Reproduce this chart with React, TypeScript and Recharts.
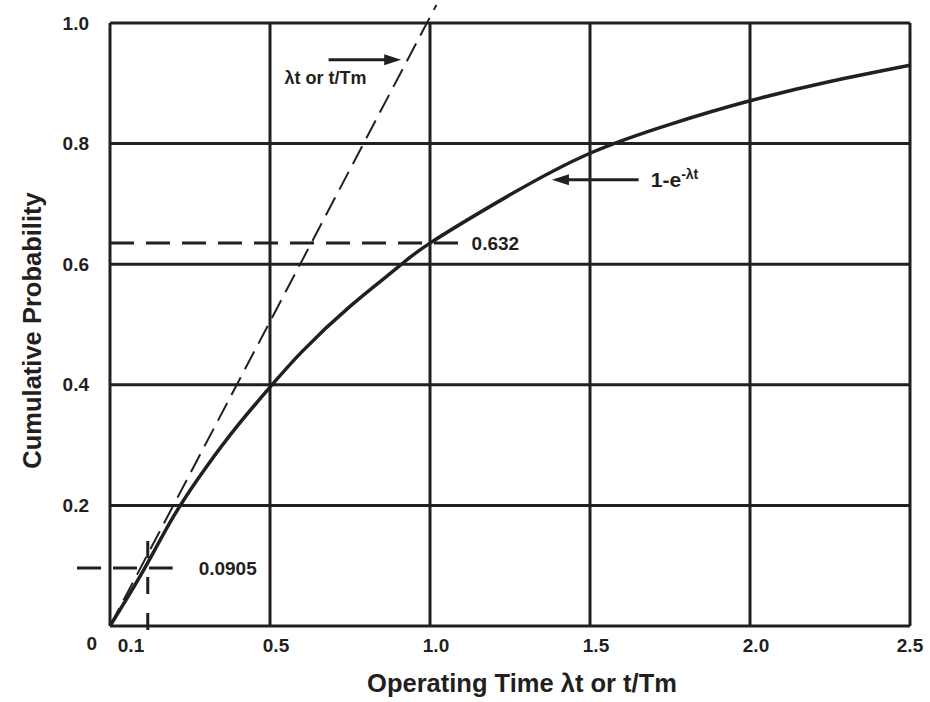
import React from 'react'
import { ComposedChart, Line, XAxis, YAxis, ReferenceLine, ReferenceDot } from 'recharts'

// cumulative probability curve 1 - e^-λt
const timeValues = [0, 0.1, 0.2, 0.3, 0.4, 0.5, 0.6, 0.75, 0.9, 1.0, 1.25, 1.5, 1.75, 2.0, 2.25, 2.5]
const cumulativeProb = [0, 0.088, 0.183, 0.263, 0.333, 0.396, 0.455, 0.53, 0.595, 0.635, 0.715, 0.784, 0.832, 0.871, 0.903, 0.93]

const xTicks = [0.1, 0.5, 1.0, 1.5, 2.0, 2.5]
const yTicks = [0, 0.2, 0.4, 0.6, 0.8, 1.0]
const gridX = [0.5, 1.0, 1.5, 2.0, 2.5]
const gridY = [0.2, 0.4, 0.6, 0.8, 1.0]

// straight line λt (or t/Tm), runs a little past the top frame
const tangentLine = [{ x: 0, y: 0 }, { x: 1.02, y: 1.03 }]
// read-off lines
const readoff632 = [{ x: 0, y: 0.635 }, { x: 1.1, y: 0.635 }]
const readoff0905H = [{ x: -0.103, y: 0.096 }, { x: 0.196, y: 0.096 }]
const readoff0905V = [{ x: 0.118, y: 0.141 }, { x: 0.118, y: -0.018 }]
// annotation arrows
const arrowTangent = [{ x: 0.683, y: 0.939 }, { x: 0.91, y: 0.939 }]
const arrowCurve = [{ x: 1.652, y: 0.74 }, { x: 1.381, y: 0.74 }]

const FONT = '"Liberation Sans", Arial, Helvetica, sans-serif'
const INK = '#231f20'

const data = timeValues.map((t, i) => ({ t, p: cumulativeProb[i] }))

function ArrowShape(props: any) {
  const { x1, y1, x2, y2 } = props
  const ang = Math.atan2(y2 - y1, x2 - x1)
  const len = 17
  const half = 5.5
  const bx = x2 - len * Math.cos(ang)
  const by = y2 - len * Math.sin(ang)
  const pts = [
    `${x2},${y2}`,
    `${bx - half * Math.sin(ang)},${by + half * Math.cos(ang)}`,
    `${bx + half * Math.sin(ang)},${by - half * Math.cos(ang)}`,
  ].join(' ')
  return (
    <g>
      <line x1={x1} y1={y1} x2={bx + 2 * Math.cos(ang)} y2={by + 2 * Math.sin(ang)} stroke={INK} strokeWidth={3} />
      <polygon points={pts} fill={INK} />
    </g>
  )
}

function XTick(props: any) {
  const { x, y, payload } = props
  const v = payload.value
  const dx = v === 0.1 ? -11 : v === 2.5 ? 0 : 6
  return (
    <text x={x + dx} y={y} dy={18} textAnchor="middle" fontFamily={FONT} fontWeight="bold" fontSize={19} fill={INK}>
      {v.toFixed(1)}
    </text>
  )
}

function YTick(props: any) {
  const { x, y, payload } = props
  const v = payload.value
  if (v === 0) {
    return (
      <text x={x - 5} y={y + 17} dy="0.35em" textAnchor="end" fontFamily={FONT} fontWeight="bold" fontSize={19} fill={INK}>
        0
      </text>
    )
  }
  return (
    <text x={x - 13} y={y} dy="0.35em" textAnchor="end" fontFamily={FONT} fontWeight="bold" fontSize={19} fill={INK}>
      {v.toFixed(1)}
    </text>
  )
}

const textDot = (render: (cx: number, cy: number) => React.ReactElement) => (p: any) => render(p.cx, p.cy)

export default function App() {
  return (
    <div style={{ position: 'absolute', left: 0, top: 0, width: 930, height: 702, background: '#fff' }}>
      <ComposedChart width={930} height={702} data={data} margin={{ top: 23, right: 20, bottom: 0, left: 0 }}>
        <XAxis
          dataKey="t"
          type="number"
          domain={[0, 2.5]}
          ticks={xTicks}
          tick={<XTick />}
          tickLine={false}
          axisLine={{ stroke: INK, strokeWidth: 3 }}
          height={76}
          interval={0}
          label={{
            content: (p: any) => {
              const vb = p.viewBox
              return (
                <text x={vb.x + vb.width / 2 + 12} y={vb.y + 66} textAnchor="middle" fontFamily={FONT} fontWeight="bold" fontSize={25.5} fill={INK}>
                  Operating Time λt or t/Tm
                </text>
              )
            },
          }}
        />
        <YAxis
          type="number"
          domain={[0, 1]}
          ticks={yTicks}
          tick={<YTick />}
          tickLine={false}
          axisLine={{ stroke: INK, strokeWidth: 3 }}
          width={110}
          interval={0}
          label={{
            content: (p: any) => {
              const vb = p.viewBox
              const cx = vb.x + 32
              const cy = vb.y + vb.height / 2 + 6
              return (
                <text x={cx} y={cy} dy="0.35em" transform={`rotate(-90, ${cx}, ${cy})`} textAnchor="middle" fontFamily={FONT} fontWeight="bold" fontSize={25.5} fill={INK}>
                  Cumulative Probability
                </text>
              )
            },
          }}
        />

        {gridX.map((v) => (
          <ReferenceLine key={'gx' + v} x={v} stroke={INK} strokeWidth={3} ifOverflow="visible" />
        ))}
        {gridY.map((v) => (
          <ReferenceLine key={'gy' + v} y={v} stroke={INK} strokeWidth={3} ifOverflow="visible" />
        ))}

        <ReferenceLine segment={tangentLine} stroke={INK} strokeWidth={2} strokeDasharray="20 9" ifOverflow="visible" />
        <ReferenceLine segment={readoff632} stroke={INK} strokeWidth={3} strokeDasharray="24 12" ifOverflow="visible" />
        <ReferenceLine segment={readoff0905H} stroke={INK} strokeWidth={3} strokeDasharray="24 12" ifOverflow="visible" />
        <ReferenceLine segment={readoff0905V} stroke={INK} strokeWidth={3} strokeDasharray="17 19" ifOverflow="visible" />
        <ReferenceLine segment={arrowTangent} ifOverflow="visible" shape={(p: any) => <ArrowShape {...p} />} />
        <ReferenceLine segment={arrowCurve} ifOverflow="visible" shape={(p: any) => <ArrowShape {...p} />} />

        <Line
          dataKey="p"
          type="natural"
          stroke={INK}
          strokeWidth={3.5}
          dot={false}
          activeDot={false}
          isAnimationActive={false}
        />

        <ReferenceDot
          x={0.545}
          y={0.91}
          r={0}
          ifOverflow="visible"
          shape={textDot((cx, cy) => (
            <text x={cx} y={cy} dy="0.35em" fontFamily={FONT} fontWeight="bold" fontSize={18} fill={INK}>
              λt or t/Tm
            </text>
          ))}
        />
        <ReferenceDot
          x={1.69}
          y={0.74}
          r={0}
          ifOverflow="visible"
          shape={textDot((cx, cy) => (
            <text x={cx} y={cy} dy="0.35em" fontFamily={FONT} fontWeight="bold" fontSize={21} fill={INK}>
              1-e
              <tspan fontSize={14} dy="-8">-λt</tspan>
            </text>
          ))}
        />
        <ReferenceDot
          x={1.13}
          y={0.635}
          r={0}
          ifOverflow="visible"
          shape={textDot((cx, cy) => (
            <text x={cx} y={cy} dy="0.35em" fontFamily={FONT} fontWeight="bold" fontSize={19} fill={INK}>
              0.632
            </text>
          ))}
        />
        <ReferenceDot
          x={0.277}
          y={0.096}
          r={0}
          ifOverflow="visible"
          shape={textDot((cx, cy) => (
            <text x={cx} y={cy} dy="0.35em" fontFamily={FONT} fontWeight="bold" fontSize={19} fill={INK}>
              0.0905
            </text>
          ))}
        />
      </ComposedChart>
    </div>
  )
}
